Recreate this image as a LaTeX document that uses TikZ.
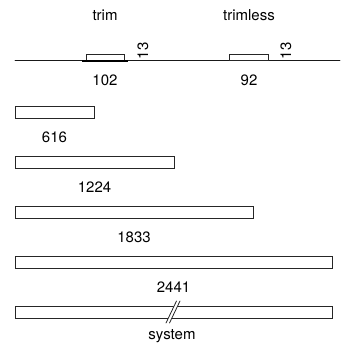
\documentclass[tikz,border=0pt]{standalone}
\usepackage{fontspec}
\setmainfont{TeX Gyre Heros}
\begin{document}
\begin{tikzpicture}[x=1pt,y=-1pt,font=\fontsize{15}{18}\selectfont,line cap=round]
\useasboundingbox (0,0) rectangle (351,350);
\tikzset{bar/.style={draw=black!85,line width=0.9pt}}
% top line with the two regions
\draw[black!90,line width=0.9pt] (15,60.5) -- (340,60.5);
\draw[bar] (86,54.5) rectangle (124,60.5);
\draw[black,line width=1.8pt,line cap=butt] (82,61) -- (128,61);
\draw[bar] (229,54.5) rectangle (268,60.5);
\node (trim) at (105,15) {trim};
\node (trimless) at (249,15) {trimless};
\node (len102) at (105,80) {102};
\node (len92) at (249,80) {92};
\node[rotate=90] (gapa) at (143,51) {13};
\node[rotate=90] (gapb) at (286,51) {13};
% bars
\foreach \len/\lab [count=\i] in {79/616,159/1224,238/1833,317/2441} {
  \draw[bar] (15,56+50*\i) rectangle (15+\len,68+50*\i);
  \node (len\lab) at (15+\len/2,87+50*\i) {\lab};
}
\draw[bar] (15,306) rectangle (332,318);
\fill[white] (176.5,301) -- (180,301) -- (169.5,323) -- (166,323) -- cycle;
\draw[black!85,line width=0.8pt] (176.5,301) -- (166,323);
\draw[black!85,line width=0.8pt] (180,301) -- (169.5,323);
\node (system) at (172,336) {system};
\end{tikzpicture}
\end{document}
